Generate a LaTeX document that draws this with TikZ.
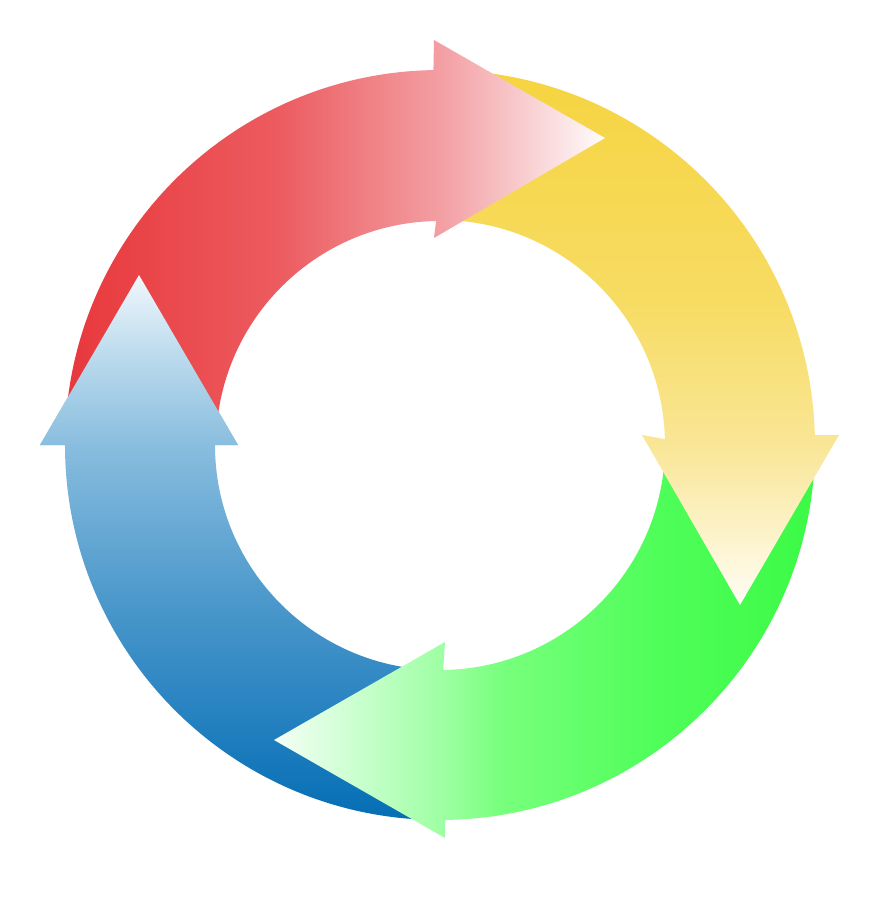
\documentclass[tikz,border=0pt]{standalone}
\usepackage{xcolor}
\usepackage{tikz}

% colours of the four arrows
\definecolor{redA}{RGB}{232,56,60}
\definecolor{redB}{RGB}{236,92,96}
\definecolor{redC}{RGB}{243,160,164}
\definecolor{redD}{RGB}{248,202,205}
\definecolor{redE}{RGB}{255,252,252}
\definecolor{yelA}{RGB}{246,212,64}
\definecolor{yelB}{RGB}{247,220,100}
\definecolor{yelC}{RGB}{249,230,150}
\definecolor{yelD}{RGB}{252,242,200}
\definecolor{yelE}{RGB}{255,253,245}
\definecolor{grnA}{RGB}{60,250,70}
\definecolor{grnB}{RGB}{80,254,90}
\definecolor{grnC}{RGB}{120,255,125}
\definecolor{grnD}{RGB}{155,255,160}
\definecolor{grnE}{RGB}{200,255,205}
\definecolor{grnF}{RGB}{245,255,245}
\definecolor{bluA}{RGB}{5,110,180}
\definecolor{bluB}{RGB}{25,122,188}
\definecolor{bluC}{RGB}{75,152,203}
\definecolor{bluD}{RGB}{135,188,222}
\definecolor{bluE}{RGB}{190,220,238}
\definecolor{bluF}{RGB}{240,247,252}

% the path box is mapped to 25bp..75bp
\pgfdeclarehorizontalshading{redshade}{100bp}{color(0bp)=(redA); color(25bp)=(redA); color(45bp)=(redB); color(60bp)=(redC); color(67bp)=(redD); color(75bp)=(redE); color(100bp)=(redE)}
\pgfdeclareverticalshading{yelshade}{100bp}{color(0bp)=(yelE); color(25bp)=(yelE); color(32bp)=(yelD); color(40bp)=(yelC); color(53bp)=(yelB); color(75bp)=(yelA); color(100bp)=(yelA)}
\pgfdeclarehorizontalshading{grnshade}{100bp}{color(0bp)=(grnF); color(25bp)=(grnF); color(33bp)=(grnE); color(41bp)=(grnD); color(46bp)=(grnC); color(60bp)=(grnB); color(75bp)=(grnA); color(100bp)=(grnA)}
\pgfdeclareverticalshading{blushade}{100bp}{color(0bp)=(bluA); color(25bp)=(bluA); color(31bp)=(bluB); color(45bp)=(bluC); color(59bp)=(bluD); color(68bp)=(bluE); color(75bp)=(bluF); color(100bp)=(bluF)}

\begin{document}
\begin{tikzpicture}
\useasboundingbox[fill=white] (-4.4,-4.75) rectangle (4.4,4.45);
% blue arrow, bottom to left
\shade[shading=blushade] (-90:3.75) arc (-90:-180:3.75) -- (-4.00,0) -- (-3.01,1.70) -- (-2.02,0) -- (180:2.25) arc (180:270:2.25) -- cycle;
% green arrow, right to bottom
\shade[shading=grnshade] (0:3.75) arc (0:-89.2:3.75) -- (0.05,-3.93) -- (-1.66,-2.95) -- (0.05,-1.97) -- (-89.2:2.25) arc (-89.2:0:2.25) -- cycle;
% yellow arrow, top to right
\shade[shading=yelshade] (90:3.75) arc (90:1.5:3.75) -- (3.99,0.10) -- (3.00,-1.60) -- (2.02,0.10) -- (1.5:2.25) arc (1.5:90:2.25) -- cycle;
% red arrow, left to top
\shade[shading=redshade] (178:3.75) arc (178:91:3.75) -- (-0.06,4.05) -- (1.65,3.07) -- (-0.06,2.07) -- (91:2.24) arc (91:178:2.24) -- cycle;
% blue head again, over the red band
\begin{scope}
\clip (-4.00,0) -- (-3.01,1.70) -- (-2.02,0) -- cycle;
\shade[shading=blushade] (-90:3.75) arc (-90:-180:3.75) -- (-4.00,0) -- (-3.01,1.70) -- (-2.02,0) -- (180:2.25) arc (180:270:2.25) -- cycle;
\end{scope}
\end{tikzpicture}
\end{document}
